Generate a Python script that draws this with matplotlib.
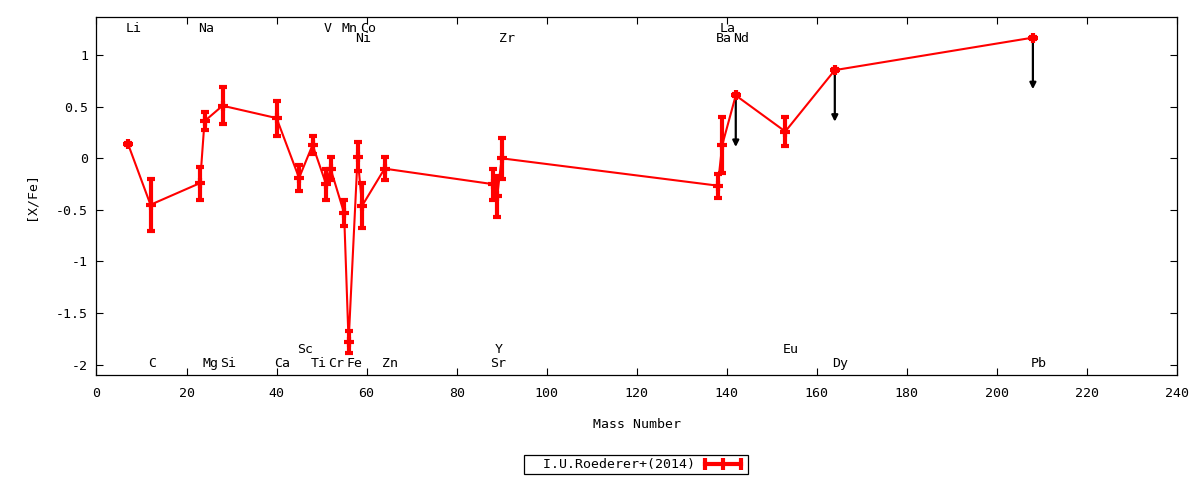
import numpy as np
import matplotlib
matplotlib.use("Agg")
import matplotlib.pyplot as plt
from matplotlib.lines import Line2D

plt.rcParams['font.family'] = ['DejaVu Sans Mono', 'DejaVu Sans']
plt.rcParams['font.size'] = 9.5
plt.rcParams['axes.unicode_minus'] = False

# element data
elements = ['Li', 'C', 'Na', 'Mg', 'Si', 'Ca', 'Sc', 'Ti', 'V', 'Cr', 'Mn', 'Fe',
            'Ni', 'Co', 'Zn', 'Sr', 'Y', 'Zr', 'Ba', 'La', 'Nd', 'Eu', 'Dy', 'Pb']
mass = [7, 12, 23, 24, 28, 40, 45, 48, 51, 52, 55, 56,
        58, 59, 64, 88, 89, 90, 138, 139, 142, 153, 164, 208]
xfe = [0.14, -0.45, -0.24, 0.36, 0.51, 0.39, -0.19, 0.13, -0.25, -0.10, -0.53, -1.78,
       0.015, -0.46, -0.10, -0.25, -0.37, 0.0, -0.265, 0.13, 0.61, 0.26, 0.855, 1.17]
err = [0.01, 0.25, 0.16, 0.09, 0.18, 0.17, 0.13, 0.085, 0.15, 0.11, 0.13, 0.11,
       0.14, 0.22, 0.11, 0.15, 0.20, 0.20, 0.115, 0.27, 0.01, 0.14, 0.01, 0.01]
upper_limit = ['Nd', 'Dy', 'Pb']

# row where each element name is written
label_y = {'Li': 1.26, 'Na': 1.26, 'V': 1.26, 'Mn': 1.26, 'Co': 1.26, 'La': 1.26,
           'Ni': 1.165, 'Zr': 1.165, 'Ba': 1.165, 'Nd': 1.165,
           'Sc': -1.85, 'Y': -1.85, 'Eu': -1.85,
           'C': -1.99, 'Mg': -1.99, 'Si': -1.99, 'Ca': -1.99, 'Ti': -1.99,
           'Cr': -1.99, 'Fe': -1.99, 'Zn': -1.99, 'Sr': -1.99, 'Dy': -1.99, 'Pb': -1.99}

fig = plt.figure(figsize=(12, 4.8), dpi=100)
ax = fig.add_axes([0.0804, 0.2188, 0.9004, 0.7458])

# upper limit arrows
for el, m, v in zip(elements, mass, xfe):
    if el in upper_limit:
        ax.annotate('', xy=(m, v - 0.5), xytext=(m, v),
                    arrowprops=dict(arrowstyle='-|>', color='black', lw=1.6,
                                    mutation_scale=9, shrinkA=0, shrinkB=0))

ax.errorbar(mass, xfe, yerr=err, color='red', lw=1.5, elinewidth=3,
            capsize=3, capthick=3, marker='+', ms=7, mew=3, zorder=3)

for el, m in zip(elements, mass):
    ax.text(m - 0.5, label_y[el], el, ha='left', va='center', color='black')

ax.set_xlim(0, 240)
ax.set_ylim(-2.1, 1.37)
ax.set_xticks(np.arange(0, 241, 20))
ax.set_yticks([-2, -1.5, -1, -0.5, 0, 0.5, 1])
ax.set_yticklabels(['-2', '-1.5', '-1', '-0.5', '0', '0.5', '1'])
ax.tick_params(direction='in', top=True, right=True, length=5, width=0.8)
ax.tick_params(axis='x', pad=9)
ax.tick_params(axis='y', pad=6)
for s in ax.spines.values():
    s.set_linewidth(0.9)

ax.set_xlabel('Mass Number')
ax.set_ylabel('[X/Fe]')
ax.xaxis.set_label_coords(0.5, -0.12)
ax.yaxis.set_label_coords(-0.055, 0.5)

# gnuplot style key sample: horizontal bar with ticks
key = Line2D([], [], color='red', lw=3, marker='|', ms=9, mew=3)
leg = ax.legend([key], ['  I.U.Roederer+(2014)'], loc='center',
                bbox_to_anchor=(0.53, 0.032), bbox_transform=fig.transFigure,
                markerfirst=False, numpoints=3, fancybox=False,
                edgecolor='black', framealpha=1, handlelength=3.3,
                borderpad=0.25, handletextpad=0.5, borderaxespad=0)
leg.get_frame().set_linewidth(0.9)

fig.savefig('out.png', dpi=100)
